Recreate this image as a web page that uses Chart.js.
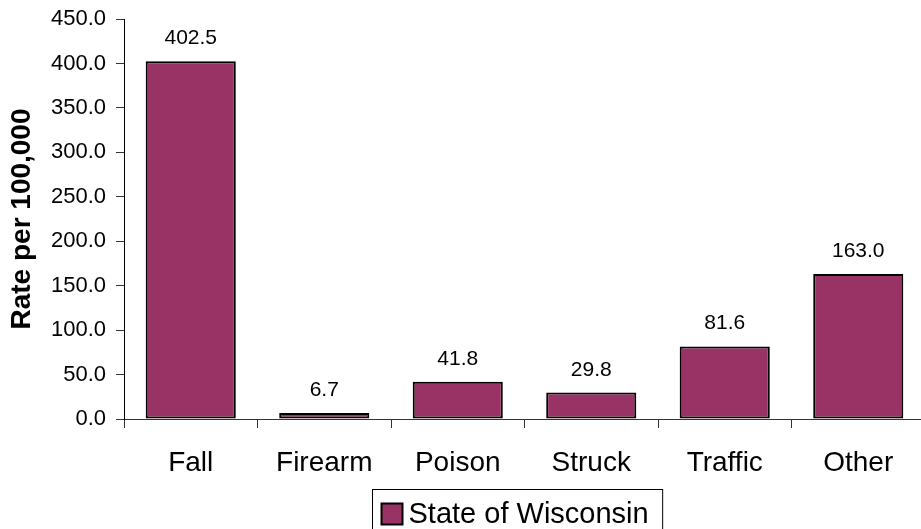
<!DOCTYPE html>
<html>
<head>
<meta charset="utf-8">
<script src="https://cdn.jsdelivr.net/npm/chart.js@4"></script>
<style>
  html, body { margin: 0; padding: 0; background: #fff; overflow: hidden; }
  #wrap { width: 921px; height: 529px; overflow: hidden; }
  canvas { display: block; }
</style>
</head>
<body>
<div id="wrap"><canvas id="injuryChart" width="925" height="529"></canvas></div>
<script>
const categories = ['Fall', 'Firearm', 'Poison', 'Struck', 'Traffic', 'Other'];
const rates = [402.5, 6.7, 41.8, 29.8, 81.6, 163.0];
const seriesName = 'State of Wisconsin';
const yTicks = [0, 50, 100, 150, 200, 250, 300, 350, 400, 450];

const plum = '#993366';
const font = 'Liberation Sans, Arial, sans-serif';

// value labels above each bar
const valueLabels = {
  id: 'valueLabels',
  afterDatasetsDraw(chart) {
    const ctx = chart.ctx;
    const meta = chart.getDatasetMeta(0);
    ctx.save();
    ctx.font = `21px ${font}`;
    ctx.fillStyle = '#000';
    ctx.textAlign = 'center';
    ctx.textBaseline = 'alphabetic';
    meta.data.forEach((bar, i) => {
      ctx.fillText(rates[i].toFixed(1), bar.x, bar.y - 17);
    });
    ctx.restore();
  }
};

// boxed legend below the axis
const boxLegend = {
  id: 'boxLegend',
  afterDraw(chart) {
    const ctx = chart.ctx;
    const ds = chart.data.datasets[0];
    ctx.save();
    ctx.font = `29px ${font}`;
    const textW = ctx.measureText(ds.label).width;
    const left = 372.5, top = 489.5;
    const marker = 21;
    const w = 9 + marker + 6 + textW + 14;
    ctx.strokeStyle = '#000';
    ctx.lineWidth = 1;
    ctx.strokeRect(left, top, w, 60);
    ctx.fillStyle = ds.backgroundColor;
    ctx.fillRect(left + 9, top + 14, marker, marker);
    ctx.lineWidth = 2;
    ctx.strokeRect(left + 9, top + 14, marker, marker);
    ctx.fillStyle = '#000';
    ctx.textBaseline = 'middle';
    ctx.fillText(ds.label, left + 9 + marker + 6, top + 25);
    ctx.restore();
  }
};

new Chart(document.getElementById('injuryChart'), {
  type: 'bar',
  data: {
    labels: categories,
    datasets: [{
      label: seriesName,
      data: rates,
      backgroundColor: plum,
      borderColor: '#000',
      borderWidth: 2,
      borderSkipped: false,
      categoryPercentage: 1,
      barPercentage: 0.675
    }]
  },
  options: {
    responsive: false,
    animation: false,
    devicePixelRatio: 1,
    layout: { padding: { top: 19, right: 0, bottom: 0, left: 0 } },
    scales: {
      x: {
        grid: {
          drawOnChartArea: false,
          drawTicks: true,
          tickLength: 9,
          color: '#333'
        },
        border: { color: '#333', width: 1 },
        ticks: {
          color: '#000',
          padding: 18,
          font: { family: font, size: 28 }
        },
        afterFit: (scale) => { scale.height = 110; }
      },
      y: {
        min: 0,
        max: 450,
        afterBuildTicks: (scale) => { scale.ticks = yTicks.map((v) => ({ value: v })); },
        grid: {
          drawOnChartArea: false,
          drawTicks: true,
          tickLength: 8,
          color: '#333'
        },
        border: { color: '#000', width: 1 },
        ticks: {
          color: '#000',
          padding: 10,
          font: { family: font, size: 22 },
          callback: (value) => value.toFixed(1)
        },
        title: {
          display: true,
          text: 'Rate per 100,000',
          color: '#000',
          padding: { top: 5, bottom: 0 },
          font: { family: font, size: 28, weight: 'bold' }
        },
        afterFit: (scale) => {
          scale.width = 124;
          scale.paddingTop = 0;
          scale.paddingBottom = 0;
        }
      }
    },
    plugins: {
      legend: { display: false },
      tooltip: { enabled: false }
    }
  },
  plugins: [valueLabels, boxLegend]
});
</script>
</body>
</html>
